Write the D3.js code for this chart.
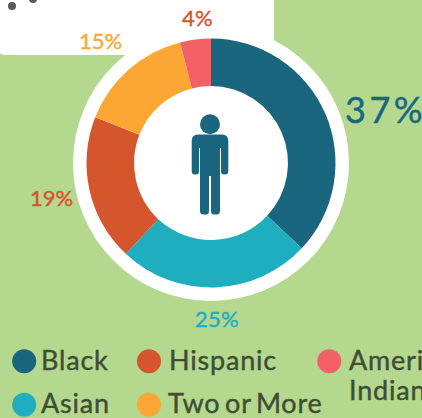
<!DOCTYPE html>
<html>
<head>
<meta charset="utf-8">
<script src="https://cdn.jsdelivr.net/npm/d3@7"></script>
<style>
  html, body { margin: 0; padding: 0; background: #b3d88e; overflow: hidden; }
  text { font-family: Lato, sans-serif; }
</style>
</head>
<body>
<div id="chart"></div>
<script>
// slices, clockwise from 12 o'clock
var categories = ['Black', 'Asian', 'Hispanic', 'Two or More', 'American Indian'];
var values = [37, 25, 19, 15, 4];
var colors = ['#1a667f', '#1fadc0', '#d5552d', '#fca733', '#f36065'];
var labelColors = ['#1a667f', '#1fadc0', '#d5552d', '#fca733', '#d5552d'];
var legendOrder = ['Black', 'Hispanic', 'American Indian', 'Asian', 'Two or More'];

var width = 422, height = 418;
var cx = 211, cy = 163;
var outer = 124.5, inner = 77, halo = 138;

var svg = d3.select('#chart').append('svg')
    .attr('width', width)
    .attr('height', height)
    .style('display', 'block');

svg.append('rect').attr('width', width).attr('height', height).attr('fill', '#b3d88e');

// white card behind the top of the donut
svg.append('rect')
    .attr('x', -3).attr('y', -20)
    .attr('width', 277).attr('height', 75)
    .attr('rx', 8)
    .attr('fill', '#fff');
svg.append('circle').attr('cx', 12).attr('cy', 6).attr('r', 4).attr('fill', '#58595b');
svg.append('circle').attr('cx', 33).attr('cy', -1).attr('r', 4).attr('fill', '#58595b');

var g = svg.append('g').attr('transform', 'translate(' + cx + ',' + cy + ')');
g.append('circle').attr('r', halo).attr('fill', '#fff');

var pie = d3.pie().sort(null).value(d => d);
var arc = d3.arc().innerRadius(inner).outerRadius(outer);
var scaleColor = d3.scaleOrdinal().domain(categories).range(colors);
var scaleLabel = d3.scaleOrdinal().domain(categories).range(labelColors);

g.selectAll('path.slice')
    .data(pie(values))
    .enter()
    .append('path')
    .attr('class', 'slice')
    .attr('d', arc)
    .attr('fill', (d, i) => scaleColor(categories[i]));

// percent labels sit just outside the ring
var labelPos = [
    { x: 345, y: 123, size: 36, sp: 3.5 },
    { x: 195, y: 327, size: 22, sp: 0.3 },
    { x: 30, y: 206, size: 22, sp: 0 },
    { x: 79, y: 49, size: 22, sp: 0 },
    { x: 182, y: 26, size: 22, sp: 0.3 }
];
svg.selectAll('text.pct')
    .data(values)
    .enter()
    .append('text')
    .attr('class', 'pct')
    .attr('x', (d, i) => labelPos[i].x)
    .attr('y', (d, i) => labelPos[i].y)
    .attr('font-size', (d, i) => labelPos[i].size)
    .attr('letter-spacing', (d, i) => labelPos[i].sp)
    .attr('fill', (d, i) => scaleLabel(categories[i]))
    .attr('stroke', (d, i) => scaleLabel(categories[i]))
    .attr('stroke-width', 0.4)
    .text(d => d + '%');

// person icon in the middle
var person = svg.append('g').attr('fill', '#1a667f');
person.append('circle').attr('cx', 210).attr('cy', 124.3).attr('r', 10);
person.append('path').attr('d',
    'M198 134.5 H222 Q228.3 134.5 228.3 141 V171 Q228.3 174.5 225 174.5 H224 Q221 174.5 221 171 V148 H220 V211 Q220 214.5 216.5 214.5 H214 Q211 214.5 211 211 V176 H209 V211 Q209 214.5 206 214.5 H203.5 Q200 214.5 200 211 V148 H199 V171 Q199 174.5 196 174.5 H195 Q191.7 174.5 191.7 171 V141 Q191.7 134.5 198 134.5 Z');

// legend
var legendX = [24.2, 149, 329.3, 24.2, 149];
var legendY = [361.3, 361.3, 361.3, 404.7, 404.7];
var textX = [41, 169, 349, 41, 168];
var textY = [370, 370, 370, 413, 413];
var legend = svg.selectAll('g.legend')
    .data(legendOrder)
    .enter()
    .append('g')
    .attr('class', 'legend');

legend.append('circle')
    .attr('cx', (d, i) => legendX[i])
    .attr('cy', (d, i) => legendY[i])
    .attr('r', 12)
    .attr('fill', d => scaleColor(d));

legend.append('text')
    .attr('x', (d, i) => textX[i])
    .attr('y', (d, i) => textY[i])
    .attr('font-size', 27)
    .attr('letter-spacing', 0.8)
    .attr('word-spacing', -3)
    .attr('fill', '#3f4d35')
    .attr('stroke', '#3f4d35')
    .attr('stroke-width', 0.4)
    .each(function(d) {
        var words = d.split(' ');
        if (d === 'American Indian') {
            d3.select(this).append('tspan').text(words[0]);
            d3.select(this).append('tspan')
                .attr('x', 349).attr('dy', 30)
                .text(words[1]);
        } else {
            d3.select(this).text(d);
        }
    });
</script>
</body>
</html>
